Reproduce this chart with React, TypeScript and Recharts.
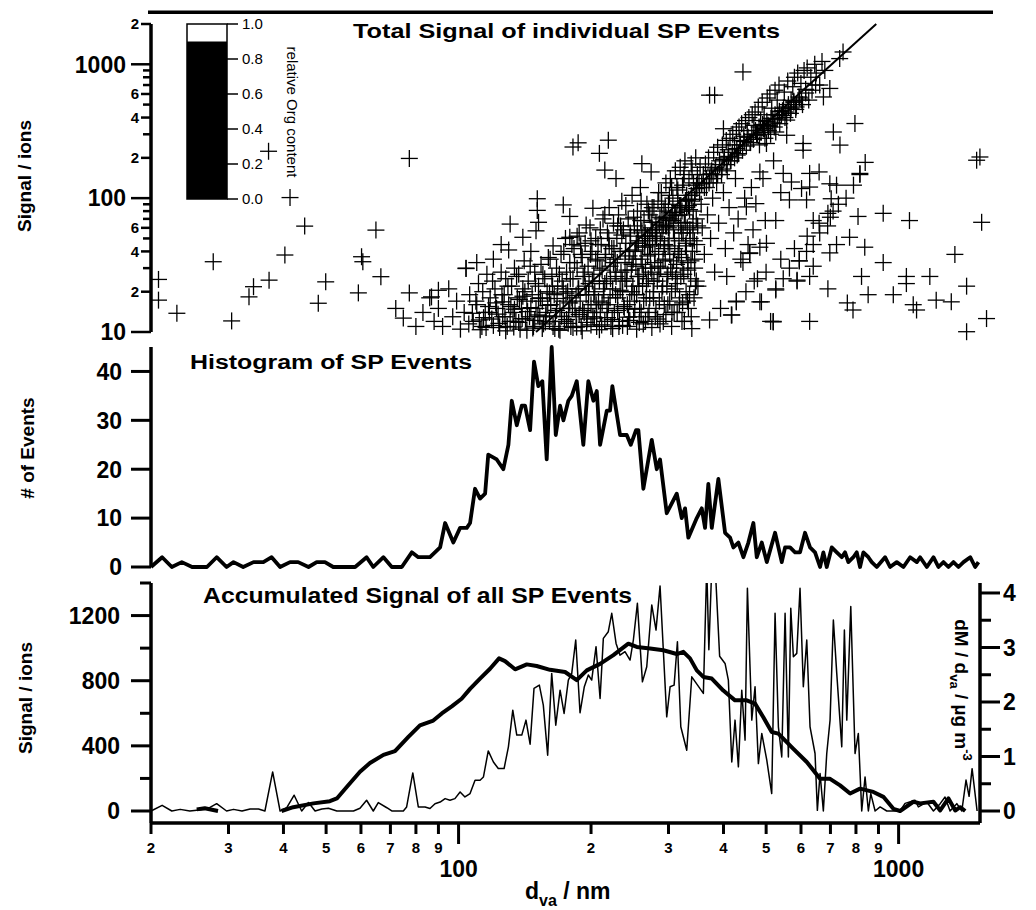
import React from 'react';
import { ComposedChart, Scatter, Line, XAxis, YAxis } from 'recharts';

const FONT = '"Liberation Sans", Arial, Helvetica, sans-serif';
const INK = '#000';

// shared size axis: vacuum aerodynamic diameter in nm
const dvaDomain: [number, number] = [20, 1531];
const dvaDomainTop: [number, number] = [20, 1631];
const dvaTicks = [20, 30, 40, 50, 60, 70, 80, 90, 100, 200, 300, 400, 500, 600, 700, 800, 900, 1000];

const signalTicks = [10, 20, 30, 40, 50, 60, 70, 80, 90, 100, 200, 300, 400, 500, 600, 700, 800, 900, 1000, 2000];
const eventTicks = [0, 10, 20, 30, 40];
const accTicks = [0, 200, 400, 600, 800, 1000, 1200, 1400];
const dmTicks = [0, 0.5, 1, 1.5, 2, 2.5, 3, 3.5, 4];
const orgTicks = [0, 0.2, 0.4, 0.6, 0.8, 1.0];
const orgLevel = 0.9;

// single particle events: [d_va, total signal]
const spEvents: [number, number][] = [
  [20.8, 24.7], [20.8, 17.3], [22.9, 13.8], [27.7, 33.5], [30.5, 12.1], [33.4, 18.3], [34.2, 21.8], [37.0, 224],
  [37.1, 24.4], [40.3, 37.6], [41.4, 101], [44.7, 61.8], [48.0, 16.4], [49.9, 23.7], [59.2, 19.6], [60.2, 36.5],
  [60.6, 33.5], [64.9, 57.7], [66.6, 25.9], [74.9, 12.7], [77.3, 198], [77.3, 19.6], [86.8, 18.3], [104, 29.8],
  [72, 15], [80, 11], [83, 14], [90, 20.5],
  [86, 18], [88, 12], [90, 15], [92, 11], [95, 21], [97, 13], [99, 17], [101, 10.5], [103, 14], [104, 30], [106, 19],
  [108, 12], [110, 16], [111, 23], [113, 11], [115, 14], [116, 27], [118, 18], [119, 12.5], [121, 21], [122, 15],
  [124, 10.8], [125, 45],
  [126, 13], [127, 19], [128, 25], [129, 11], [130, 16], [131, 64], [132, 22], [133, 14], [134, 30], [135, 12],
  [136, 18], [137, 27], [138, 10.5], [139, 15], [140, 21], [141, 34], [142, 12.5], [143, 17], [144, 24], [145, 13],
  [146, 40], [147, 19], [148, 11], [149, 28], [150, 15], [151, 99], [151, 81], [152, 22], [152, 66], [153, 13],
  [154, 32], [155, 17], [156, 11.5], [157, 25], [158, 14], [159, 20], [160, 36],
  [150, 57], [140, 51], [130, 41], [179, 51], [120, 35], [110, 33], [125, 28],
  [161, 12], [162, 16], [163, 26], [164, 44], [165, 19], [166, 13], [167, 30], [168, 22], [169, 10.5], [170, 15],
  [171, 38], [172, 24], [173, 89], [173, 17], [174, 12], [175, 50], [176, 28], [177, 20], [178, 14], [179, 73],
  [179, 33], [180, 11], [181, 18], [182, 241], [182, 25], [183, 42], [184, 15], [185, 13], [186, 30], [187, 259],
  [187, 21], [188, 55], [189, 17], [190, 11], [191, 36], [192, 26], [193, 14], [194, 46], [195, 19], [196, 12.5],
  [197, 31], [198, 23], [199, 60], [200, 16], [201, 40], [202, 84], [202, 13], [203, 27], [204, 20], [205, 50],
  [206, 11], [207, 34], [208, 17], [209, 216], [209, 24],
  [210, 14], [211, 45], [212, 29], [213, 70], [214, 19], [215, 162], [215, 12], [216, 38], [217, 24], [218, 55],
  [219, 271], [219, 16], [220, 85], [221, 31], [222, 11], [223, 42], [224, 21], [225, 65], [226, 14], [227, 35],
  [228, 140], [228, 26], [229, 50], [230, 18], [231, 75], [232, 12], [233, 40], [234, 28], [235, 95], [236, 20],
  [237, 58], [238, 15], [239, 33], [240, 46], [241, 24], [242, 11], [243, 70], [244, 37], [245, 17], [246, 52],
  [247, 29], [248, 105], [249, 22], [250, 13], [251, 62], [252, 41], [253, 31], [254, 19], [255, 80], [256, 48],
  [257, 26], [258, 15], [259, 120], [260, 35], [261, 181], [261, 57], [262, 22], [263, 11.5], [264, 68], [265, 43],
  [266, 30], [267, 18], [268, 90], [269, 52], [270, 25],
  [271, 14], [272, 75], [273, 38], [274, 157], [274, 60], [275, 28], [276, 45], [277, 20], [278, 85], [279, 33],
  [280, 13], [281, 66], [282, 50], [283, 24], [284, 95], [285, 40], [286, 17], [287, 72], [288, 30], [289, 110],
  [290, 55], [291, 22], [292, 12], [293, 80], [294, 45], [295, 35], [296, 130], [297, 62], [298, 26], [299, 16],
  [300, 90], [301, 50], [302, 38], [303, 140], [304, 70], [305, 20], [306, 28], [307, 100], [308, 58], [309, 14],
  [310, 42], [311, 160], [312, 78], [313, 32], [314, 23], [315, 115], [316, 65], [317, 48], [318, 18], [319, 170],
  [320, 88], [321, 36], [322, 12], [323, 125], [324, 55], [325, 27], [326, 75], [327, 190], [328, 44], [329, 20],
  [330, 105], [331, 60], [332, 33], [333, 15], [334, 140], [335, 82], [336, 50], [337, 25], [338, 180], [339, 95],
  [340, 40], [341, 65], [342, 130], [343, 18], [344, 30], [345, 110], [346, 200], [347, 70], [348, 45], [349, 150],
  [350, 22],
  [112, 10.4], [114, 12.8], [117, 15.5], [120, 11.2], [123, 13.6], [126, 16.8], [128, 10.2], [131, 12], [134, 14.8],
  [137, 11.8], [140, 18.5], [143, 10.3], [146, 15.2], [149, 12.2], [152, 17.8], [155, 10.6], [158, 13.2], [161, 19.5],
  [164, 11], [167, 14.5], [170, 10.3], [173, 21], [176, 12.4], [179, 16.5], [182, 10.8], [185, 18.8], [188, 13.5],
  [191, 10.2], [194, 22], [197, 15], [200, 11.3], [203, 19], [206, 14], [209, 10.4], [212, 16.5], [215, 23],
  [218, 12.8], [221, 18], [224, 10.6], [227, 28], [230, 14.5], [233, 20.5], [236, 11.2], [239, 25], [242, 16],
  [245, 12.2], [248, 32], [251, 19], [254, 10.5], [257, 22], [260, 14], [263, 27], [266, 12], [269, 37], [272, 18],
  [275, 10.8], [278, 24], [281, 15], [284, 31], [287, 11.5], [290, 20], [293, 42], [296, 13.5], [299, 27], [302, 17],
  [305, 11], [308, 34], [311, 21], [314, 14], [317, 40], [320, 26], [323, 16.5], [326, 12], [329, 46], [332, 29],
  [335, 19], [338, 13], [341, 55], [344, 35], [347, 24],
  [105.5, 11.5], [107.5, 13.8], [109.5, 17], [111.5, 12.3], [113.5, 20], [115.5, 10.8], [117.5, 14], [119.5, 24],
  [121.5, 16.5], [123.5, 11.6], [125.5, 19], [127.5, 13], [129.5, 22], [131.5, 15.5], [133.5, 10.9], [135.5, 26],
  [137.5, 17.5], [139.5, 12.6], [141.5, 20], [143.5, 14.2], [145.5, 31], [147.5, 10.7], [149.5, 23], [151.5, 13.4],
  [153.5, 18], [155.5, 27], [157.5, 11.9], [159.5, 15.8], [161.5, 35], [163.5, 22], [165.5, 10.6], [167.5, 17.8],
  [169.5, 27], [171.5, 13.1], [173.5, 40], [175.5, 19.5], [177.5, 11.6], [179.5, 25], [181.5, 15], [183.5, 33],
  [185.5, 10.9], [187.5, 21], [189.5, 44], [191.5, 14.5], [193.5, 28], [195.5, 11.8], [197.5, 19], [199.5, 38],
  [201.5, 24], [203.5, 12.7], [205.5, 16], [207.5, 45], [209.5, 30], [211.5, 11.3], [213.5, 21], [215.5, 36],
  [217.5, 15], [219.5, 50], [221.5, 25], [223.5, 12.4], [225.5, 42], [227.5, 19], [229.5, 33], [231.5, 11],
  [233.5, 62], [235.5, 24], [237.5, 15.5], [239.5, 40], [241.5, 29], [243.5, 12.9], [245.5, 55], [247.5, 20],
  [249.5, 35], [251.5, 14.8], [253.5, 46], [255.5, 26], [257.5, 11.8], [259.5, 68], [261.5, 32], [263.5, 17],
  [265.5, 55], [267.5, 23], [269.5, 13], [271.5, 44], [273.5, 30], [275.5, 85], [277.5, 18], [279.5, 38],
  [281.5, 58], [283.5, 12.5], [285.5, 27], [287.5, 48], [289.5, 90], [291.5, 34], [293.5, 16], [295.5, 62],
  [297.5, 22], [299.5, 44], [301.5, 105], [303.5, 30], [305.5, 14], [307.5, 68], [309.5, 50], [311.5, 25],
  [313.5, 120], [315.5, 38], [317.5, 16], [319.5, 85], [321.5, 55], [323.5, 30], [325.5, 150], [327.5, 66],
  [329.5, 40], [331.5, 17], [333.5, 98], [335.5, 58], [337.5, 34], [339.5, 160], [341.5, 80], [343.5, 48],
  [345.5, 22], [347.5, 125], [349.5, 62],
  [181, 45], [186, 52], [190, 38], [195, 63], [200, 48], [205, 35], [210, 58], [215, 75], [220, 44], [225, 33],
  [230, 62], [235, 53], [240, 88], [245, 40], [250, 72], [255, 58], [260, 95], [265, 48], [270, 80], [275, 66],
  [280, 52], [285, 110], [290, 70], [295, 85], [300, 60], [305, 120], [310, 75], [315, 95], [320, 62], [325, 140],
  [330, 85],
  [252, 40], [256, 46], [262, 44], [266, 52], [272, 50], [276, 58], [282, 55], [286, 64], [292, 62], [296, 72],
  [302, 68], [306, 78], [312, 74], [318, 88], [322, 80], [328, 96], [333, 88], [338, 105], [344, 98], [348, 118],
  [353, 110], [357, 128], [362, 120], [366, 140], [371, 130], [375, 152], [379, 140], [383, 165], [388, 150],
  [392, 178], [397, 165], [401, 195], [406, 178], [411, 205], [415, 190], [419, 220], [424, 200], [429, 235],
  [433, 215], [437, 250], [442, 228], [446, 265], [451, 245], [455, 285], [460, 260], [464, 300], [468, 275],
  [473, 320], [477, 295], [482, 340], [487, 310], [491, 355], [496, 330], [502, 375], [507, 345], [513, 395],
  [518, 365], [524, 420], [530, 390], [536, 445], [542, 415], [548, 470], [555, 440], [562, 500], [570, 470],
  [578, 530], [586, 500], [594, 570], [602, 540],
  [352, 130], [354, 170], [356, 90], [358, 60], [360, 150], [362, 38], [364, 180], [366, 120], [368, 75], [370, 200],
  [372, 588], [372, 140], [374, 50], [376, 160], [378, 100], [380, 220], [382, 588], [382, 28], [384, 170], [386, 130],
  [388, 240], [390, 65], [392, 190], [394, 15], [396, 150], [398, 250], [400, 330], [400, 110], [402, 200], [404, 42],
  [406, 270], [407, 26], [408, 160], [410, 230], [412, 85], [414, 280], [416, 190], [418, 13.4], [420, 300], [422, 55],
  [424, 250], [426, 140], [428, 320], [428, 17], [430, 210], [432, 70], [434, 340], [436, 270], [438, 35], [440, 360],
  [443, 877], [443, 33], [445, 290], [447, 100], [449, 380], [451, 86], [453, 320], [455, 45], [457, 400], [459, 39],
  [461, 260], [463, 120], [465, 420], [467, 58], [469, 350],
  [472, 440], [474, 91], [476, 300], [478, 25], [480, 480], [484, 157], [484, 43], [486, 380], [488, 16.8], [490, 520],
  [492, 140], [495, 420], [498, 68], [501, 256], [501, 46], [503, 560], [506, 320], [510, 600], [512, 12], [515, 470],
  [519, 12], [520, 190], [524, 640], [526, 312], [526, 68], [526, 21], [530, 540], [535, 700], [540, 110], [547, 153],
  [550, 620], [557, 383], [557, 295], [560, 750], [565, 97], [570, 538], [571, 132], [575, 680], [580, 800], [585, 480],
  [588, 24], [590, 860], [595, 34], [600, 720], [602, 118], [607, 256], [607, 228], [610, 900], [615, 650], [618, 97],
  [620, 940], [628, 153], [628, 121], [628, 26], [628, 12], [632, 800], [640, 68], [640, 31], [645, 1000], [650, 860],
  [478, 300], [483, 250], [493, 330], [497, 280], [505, 350], [512, 300], [518, 390], [522, 340], [532, 420],
  [537, 360], [545, 450], [552, 400], [562, 480], [568, 430], [578, 520], [584, 460], [596, 560], [605, 500],
  [615, 610], [625, 540], [636, 640], [648, 700],
  [660, 157], [662, 700], [670, 1050], [675, 570], [680, 900], [691, 77], [691, 21], [698, 660], [698, 128], [698, 39],
  [703, 99], [711, 312], [723, 125], [723, 45], [735, 1103], [736, 249], [748, 1236], [765, 16.5], [774, 51],
  [788, 14.6], [796, 361], [809, 73], [817, 153], [824, 26], [838, 43], [853, 19], [923, 77], [923, 33], [973, 19],
  [339, 10.6], [372, 12.3], [417, 13.4], [428, 16.8], [459, 38.6], [484, 16.8], [519, 11.9], [526, 20.6], [547, 25],
  [565, 30], [588, 24.4], [595, 34], [618, 40], [640, 45], [662, 55], [690, 62], [710, 80], [730, 90], [760, 100],
  [790, 125], [817, 150], [840, 185], [450, 20], [470, 24], [500, 28], [540, 35], [580, 42], [620, 52], [660, 65],
  [700, 72],
  [1042, 26], [1042, 23], [1059, 68], [1080, 16], [1099, 14.6], [1178, 26], [1218, 17.3], [1318, 16.8], [1343, 38],
  [1428, 22], [1428, 10.05], [1505, 192], [1531, 203], [1545, 66], [1585, 12.6],
];

// signal ~ d^3 guide line
const cubicFit: [number, number][] = [[150, 10], [890, 2000]];

// histogram of SP events: [d_va, count]
const histogram: [number, number][] = [
  [20, 0], [21.2, 2], [22.3, 0], [23.5, 1], [24.8, 0], [26.8, 0], [28.2, 2], [29.7, 0], [30.8, 1], [32.4, 0],
  [34.2, 1], [36, 1], [37.6, 2], [39.3, 0], [41.4, 1], [43.2, 1], [45.6, 0], [47.6, 1], [49.7, 1], [51.9, 0],
  [58.2, 0], [61.8, 2], [64, 0], [67.5, 2], [70.5, 0], [74.3, 0], [78.3, 3], [81, 2], [86.1, 2], [90.8, 4],
  [93.2, 9], [97.3, 5], [100.8, 8], [104.4, 8], [106.2, 9], [109, 16], [111.9, 14], [114.9, 15], [116.8, 23],
  [122.1, 22], [126.4, 20], [129.8, 25], [132.1, 34], [135.6, 29], [139.2, 33], [141.6, 33], [145.4, 28],
  [148.4, 42], [151.8, 37], [155, 38], [158.6, 22], [162.8, 45], [166.3, 27], [170.1, 33], [173.1, 30],
  [177.6, 34], [180.8, 35], [185.6, 38], [192.1, 25], [197.2, 38], [202.5, 34], [206.1, 36], [209.7, 25],
  [217.2, 32], [220.9, 32], [223.6, 37], [232.8, 27], [241.1, 27], [246.2, 25], [253.1, 28], [256.2, 28],
  [263, 16], [274.8, 26], [282.1, 20], [287, 22], [297.2, 11], [313.2, 15], [321.5, 10], [327.1, 12], [332.8, 6],
  [347.8, 10], [357, 12], [363.2, 8], [369.5, 17], [376.2, 8], [389.4, 18], [403.3, 7], [414, 6], [421.2, 4],
  [432.4, 5], [443.9, 2], [455.6, 5], [467.7, 9], [476.1, 2], [488.7, 5], [501.7, 1], [523.9, 7], [542.6, 1],
  [552.1, 4], [566.7, 4], [581.7, 3], [597, 3], [612.9, 7], [629.1, 4], [645.8, 3], [663, 0], [674.5, 3],
  [686.6, 0], [704.8, 4], [723.5, 3], [742.7, 2], [755.6, 3], [768.8, 1], [789.2, 2], [803.3, 3], [817.3, 0],
  [831.6, 3], [853.7, 2], [868.9, 1], [892, 0], [931.6, 2], [956.3, 0], [990.4, 1], [1025.6, 0], [1062.2, 2],
  [1100.1, 1], [1119.2, 2], [1159.2, 0], [1200, 2], [1231.8, 0], [1264.6, 1], [1298.1, 0], [1332.6, 1],
  [1368, 0], [1404.3, 1], [1454.6, 2], [1492.8, 0], [1519, 1],
];

// accumulated signal of all SP events: [d_va, ions]
const accumulated: [number, number][] = [
  [20, 0], [21.2, 35], [22.3, 0], [23.3, 10], [24.5, 0], [25.4, 5], [26.8, 12], [28.2, 45], [29.7, 0], [30.8, 10],
  [32.2, 0], [33.6, 12], [35.1, 12], [36.3, 0], [37.8, 240], [39.3, 0], [40.7, 20], [42.3, 97], [44.0, 0],
  [45.6, 52], [47.2, 0], [48.9, 12], [50.6, 17], [52.9, 0], [57.7, 0], [59.7, 17], [61.8, 66], [64.0, 0],
  [65.7, 52], [68.7, 20], [70.5, 0], [74.9, 0], [76.2, 25], [78.7, 234], [81.0, 25], [83.9, 25], [86.1, 15],
  [88.4, 45], [90.8, 55], [93.2, 76], [95.6, 66], [98.1, 76], [100.8, 117], [103.4, 86], [106.2, 107],
  [109.0, 189], [111.9, 189], [113.9, 209], [116.8, 369], [120.0, 301], [123.1, 261], [126.9, 261], [129.8, 394],
  [132.8, 619], [135.6, 466], [139.2, 466], [142.3, 558], [145.4, 410], [148.4, 753], [152.6, 773], [155.8, 650],
  [159.4, 343], [162.8, 845], [166.3, 527], [170.1, 742], [173.7, 599], [177.6, 804], [180.8, 845], [184.6, 1050],
  [188.8, 603], [193.1, 763], [197.2, 835], [200.7, 804], [205.3, 1009], [209.7, 691], [213.3, 1060],
  [218.9, 1101], [222.9, 1214], [228.0, 1029], [232.8, 957], [238.9, 978], [245.3, 927], [249.6, 1050],
  [254.9, 1275], [261.7, 793], [267.7, 886], [274.8, 1265], [281.0, 1111], [287.0, 1382], [297.2, 578],
  [302.5, 763], [308.9, 773], [314.3, 1039], [319.9, 517], [330.0, 373], [338.8, 824], [360.0, 722],
  [366.4, 1500], [370.5, 990], [376.2, 1500], [383, 1500], [392, 950], [403.3, 906], [410.3, 804], [417.7, 301],
  [424.9, 558], [432.4, 271], [440.1, 742], [447.8, 435], [453.3, 1368], [463.8, 558], [471.8, 763], [480.1, 291],
  [488.7, 476], [501.7, 312], [514.8, 107], [523.9, 1214], [533.1, 517], [542.6, 332], [552.1, 1214],
  [561.7, 332], [568.8, 1245], [576.6, 947], [586.9, 968], [597.0, 1368], [607.4, 763], [618.4, 1050],
  [629.1, 517], [645.8, 353], [653.7, 4], [663.0, 230], [674.5, 0], [686.6, 353], [698.6, 558], [710.8, 1173],
  [723.5, 845], [742.7, 394], [753.0, 1111], [762.5, 558], [778.6, 1255], [796.2, 353], [810.0, 476], [824.5, 0],
  [839.0, 209], [853.7, 0], [864.5, 107], [884.3, 0], [907.7, 25], [940, 0], [1007.7, 0], [1034.3, 47],
  [1090, 66], [1109, 25], [1159, 55], [1200, 0], [1243, 45], [1275, 86], [1309, 0], [1356, 45], [1392, 0],
  [1423, 190], [1446, 90], [1469, 260], [1508, 0],
];

// mass distribution dM/d d_va: [d_va, µg m-3]
const massDist: [number, number | null][] = [
  [25.4, 0.03], [26.5, 0.05], [28.4, 0.0], [33, null],
  [39.6, 0], [42.1, 0.07], [46.8, 0.14], [51.0, 0.18], [52.9, 0.23], [55.7, 0.44], [59.7, 0.72], [62.9, 0.88],
  [67.5, 1.03], [71.7, 1.1], [76.9, 1.36], [81.7, 1.57], [87.6, 1.66], [91.6, 1.79], [96.5, 1.92], [101.6, 2.06],
  [106.2, 2.24], [111.9, 2.43], [117.9, 2.61], [123.6, 2.8], [127.5, 2.75], [134.4, 2.6], [142.9, 2.69],
  [150.5, 2.66], [161.4, 2.59], [174.6, 2.55], [185.6, 2.4], [195.6, 2.58], [209.7, 2.7], [224.8, 2.86],
  [243.1, 3.07], [254.1, 3.01], [272.4, 2.98], [292.0, 2.95], [313.2, 2.88], [324.2, 2.92], [335.7, 2.8],
  [347.8, 2.58], [360.0, 2.46], [376.2, 2.43], [399.6, 2.21], [424.9, 2.03], [451.8, 2.03], [471.8, 1.97],
  [492.7, 1.72], [514.8, 1.45], [533.1, 1.42], [576.6, 1.14], [618.4, 0.9], [663.0, 0.59], [698.6, 0.59],
  [736.2, 0.47], [775.9, 0.32], [817.3, 0.41], [876.3, 0.35], [923.4, 0.26], [973.0, 0.04], [1007.7, 0],
  [1080.2, 0.17], [1119.2, 0.14], [1200, 0.17], [1243, 0.01], [1298, 0.23], [1345, 0.01], [1380, 0.07], [1417, 0],
];

const spData = spEvents.map(([d, s]) => ({ d, s }));
const fitData = cubicFit.map(([d, s]) => ({ d, s }));
const histData = histogram.map(([d, n]) => ({ d, n }));
const accData = accumulated.map(([d, v]) => ({ d, v }));
const dmData = massDist.map(([d, m]) => ({ d, m }));

const axisStyle = { stroke: INK, strokeWidth: 3.5 };

const Cross = (props: any) => {
  const { cx, cy } = props;
  if (cx == null || cy == null) return null;
  const h = 8.5;
  return (
    <g>
      <line x1={cx - h} x2={cx + h} y1={cy} y2={cy} stroke={INK} strokeWidth={1.3} />
      <line x1={cx} x2={cx} y1={cy - h} y2={cy + h} stroke={INK} strokeWidth={1.3} />
    </g>
  );
};

const mantissa = (v: number) => {
  const exp = Math.floor(Math.log10(v) + 1e-9);
  return Math.round(v / Math.pow(10, exp));
};

const SignalTick = (props: any) => {
  const { x, y, payload } = props;
  const v = payload.value;
  const m = mantissa(v);
  const major = m === 1;
  const labelled = major || m === 2 || m === 4 || m === 6;
  const len = major ? 20 : labelled ? 10 : 8;
  return (
    <g>
      <line x1={x - len} x2={x} y1={y} y2={y} stroke={INK} strokeWidth={2.5} />
      {labelled && (
        <text x={x - len - (major ? 5 : 2)} y={y} dy="0.36em" textAnchor="end" fontFamily={FONT}
          fontWeight="bold" fontSize={major ? 23 : 15} fill={INK}>
          {major ? v : m}
        </text>
      )}
    </g>
  );
};

const EventTick = (props: any) => {
  const { x, y, payload } = props;
  return (
    <g>
      <line x1={x - 20} x2={x} y1={y} y2={y} stroke={INK} strokeWidth={3} />
      <text x={x - 29} y={y} dy="0.36em" textAnchor="end" fontFamily={FONT} fontWeight="bold" fontSize={23} fill={INK}>
        {payload.value}
      </text>
    </g>
  );
};

const AccTick = (props: any) => {
  const { x, y, payload } = props;
  const v = payload.value;
  const major = v % 400 === 0;
  return (
    <g>
      <line x1={x - (major ? 20 : 11)} x2={x} y1={y} y2={y} stroke={INK} strokeWidth={3} />
      {major && (
        <text x={x - 31} y={y} dy="0.36em" textAnchor="end" fontFamily={FONT} fontWeight="bold" fontSize={23} fill={INK}>
          {v}
        </text>
      )}
    </g>
  );
};

const DmTick = (props: any) => {
  const { x, y, payload } = props;
  const v = payload.value;
  const major = Number.isInteger(v);
  return (
    <g>
      <line x1={x} x2={x + (major ? 20 : 11)} y1={y} y2={y} stroke={INK} strokeWidth={3} />
      {major && (
        <text x={x + 23} y={y} dy="0.36em" textAnchor="start" fontFamily={FONT} fontWeight="bold" fontSize={23} fill={INK}>
          {v}
        </text>
      )}
    </g>
  );
};

const DvaTick = (props: any) => {
  const { x, y, payload } = props;
  const v = payload.value;
  const m = mantissa(v);
  const major = m === 1;
  return (
    <g>
      <line x1={x} x2={x} y1={y} y2={y + (major ? 21 : 11)} stroke={INK} strokeWidth={3} />
      {major ? (
        <text x={x} y={y + 54} textAnchor="middle" fontFamily={FONT} fontWeight="bold" fontSize={23} fill={INK}>{v}</text>
      ) : (
        <text x={x} y={y + 30} textAnchor="middle" fontFamily={FONT} fontWeight="bold" fontSize={15} fill={INK}>{m}</text>
      )}
    </g>
  );
};

const boldText = { fontFamily: FONT, fontWeight: 'bold' as const, fill: INK };

const Overlay = () => {
  const barTop = 24;
  const barH = 175;
  const yOf = (v: number) => barTop + barH - v * barH;
  return (
    <svg width={1036} height={910} style={{ position: 'absolute', left: 0, top: 0, pointerEvents: 'none' }}>
      <rect x={148} y={10.5} width={845} height={3.5} fill={INK} />

      <text x={353} y={38} fontSize={21} textLength={427} lengthAdjust="spacingAndGlyphs" {...boldText}>
        Total Signal of individual SP Events
      </text>
      <text x={190} y={369} fontSize={20} textLength={282} lengthAdjust="spacingAndGlyphs" {...boldText}>
        Histogram of SP Events
      </text>
      <text x={203} y={603} fontSize={22} textLength={429} lengthAdjust="spacingAndGlyphs" {...boldText}>
        Accumulated Signal of all SP Events
      </text>

      <text transform="translate(24,176) rotate(-90)" textAnchor="middle" dy="0.36em" fontSize={19} {...boldText}>
        Signal / ions
      </text>
      <text transform="translate(27,448) rotate(-90)" textAnchor="middle" dy="0.36em" fontSize={19} {...boldText}>
        # of Events
      </text>
      <text transform="translate(25,698) rotate(-90)" textAnchor="middle" dy="0.36em" fontSize={19} {...boldText}>
        Signal / ions
      </text>

      <text transform="translate(955,690) rotate(90)" textAnchor="middle" fontSize={19} {...boldText}>
        dM / d<tspan dy={5} fontSize={13}>va</tspan><tspan dy={-5}> / µg m</tspan><tspan dy={-8} fontSize={13}>-3</tspan>
      </text>

      <text x={525} y={899} fontSize={23} {...boldText}>
        d<tspan dy={7} fontSize={16}>va</tspan><tspan dy={-7}> / nm</tspan>
      </text>

      <rect x={187} y={yOf(orgLevel)} width={40} height={yOf(0) - yOf(orgLevel)} fill={INK} />
      <rect x={187} y={yOf(1)} width={40} height={yOf(0) - yOf(1)} fill="none" stroke={INK} strokeWidth={1.5} />
      {orgTicks.map((t) => (
        <g key={t}>
          <line x1={227} x2={238} y1={yOf(t)} y2={yOf(t)} stroke={INK} strokeWidth={1.5} />
          <text x={242} y={yOf(t)} dy="0.36em" fontFamily={FONT} fontSize={15} fill={INK}>{t.toFixed(1)}</text>
        </g>
      ))}
      <text transform="translate(292,112) rotate(90)" textAnchor="middle" dy="0.36em" fontFamily={FONT} fontSize={15} fill={INK}>
        relative Org content
      </text>
    </svg>
  );
};

export default function App() {
  return (
    <div style={{ position: 'absolute', left: 0, top: 0, width: 1036, height: 910, background: '#fff', overflow: 'hidden' }}>
      <div style={{ position: 'absolute', left: 0, top: 0 }}>
        <ComposedChart width={1036} height={345} margin={{ top: 24, right: 44, bottom: 13, left: 0 }}>
          <XAxis dataKey="d" type="number" scale="log" domain={dvaDomainTop} height={0} tick={false} tickLine={false}
            axisLine={axisStyle} />
          <YAxis yAxisId="sig" dataKey="s" type="number" scale="log" domain={[10, 2000]} ticks={signalTicks}
            interval={0} width={151} tickSize={0} tickMargin={0} tickLine={false} axisLine={axisStyle}
            tick={(p: any) => <SignalTick {...p} />} />
          <YAxis yAxisId="frame" orientation="right" type="number" domain={[0, 1]} width={0} tick={false}
            tickLine={false} axisLine={axisStyle} />
          <Scatter yAxisId="sig" data={spData} shape={(p: any) => <Cross {...p} />} isAnimationActive={false} />
          <Line yAxisId="sig" data={fitData} dataKey="s" stroke={INK} strokeWidth={2} dot={false}
            isAnimationActive={false} />
        </ComposedChart>
      </div>

      <div style={{ position: 'absolute', left: 0, top: 340 }}>
        <ComposedChart width={1036} height={240} margin={{ top: 7, right: 56, bottom: 13, left: 0 }}>
          <XAxis dataKey="d" type="number" scale="log" domain={dvaDomain} height={0} tick={false} tickLine={false}
            axisLine={{ stroke: INK, strokeWidth: 2 }} />
          <YAxis yAxisId="n" type="number" domain={[0, 45]} ticks={eventTicks} interval={0} width={151}
            tickSize={0} tickMargin={0} tickLine={false} axisLine={axisStyle}
            tick={(p: any) => <EventTick {...p} />} />
          <YAxis yAxisId="frame" orientation="right" type="number" domain={[0, 1]} width={0} tick={false}
            tickLine={false} axisLine={axisStyle} />
          <Line yAxisId="n" data={histData} dataKey="n" stroke={INK} strokeWidth={3.8} strokeLinejoin="round"
            dot={false} isAnimationActive={false} />
        </ComposedChart>
      </div>

      <div style={{ position: 'absolute', left: 0, top: 575 }}>
        <ComposedChart width={1036} height={335} margin={{ top: 8, right: 0, bottom: 0, left: 0 }}>
          <XAxis dataKey="d" type="number" scale="log" domain={dvaDomain} ticks={dvaTicks} interval={0} height={87}
            tickSize={0} tickMargin={0} tickLine={false} axisLine={axisStyle}
            tick={(p: any) => <DvaTick {...p} />} />
          <YAxis yAxisId="acc" type="number" domain={[-73.7, 1400]} allowDataOverflow ticks={accTicks} interval={0}
            width={151} tickSize={0} tickMargin={0} tickLine={false} axisLine={axisStyle}
            tick={(p: any) => <AccTick {...p} />} />
          <YAxis yAxisId="dm" orientation="right" type="number" domain={[-0.22, 4.183]} allowDataOverflow
            ticks={dmTicks} interval={0} width={56} tickSize={0} tickMargin={0} tickLine={false} axisLine={axisStyle}
            tick={(p: any) => <DmTick {...p} />} />
          <Line yAxisId="acc" data={accData} dataKey="v" stroke={INK} strokeWidth={1.5} strokeLinejoin="round"
            dot={false} isAnimationActive={false} />
          <Line yAxisId="dm" data={dmData} dataKey="m" stroke={INK} strokeWidth={4} strokeLinejoin="round"
            dot={false} isAnimationActive={false} />
        </ComposedChart>
      </div>

      <Overlay />
    </div>
  );
}
